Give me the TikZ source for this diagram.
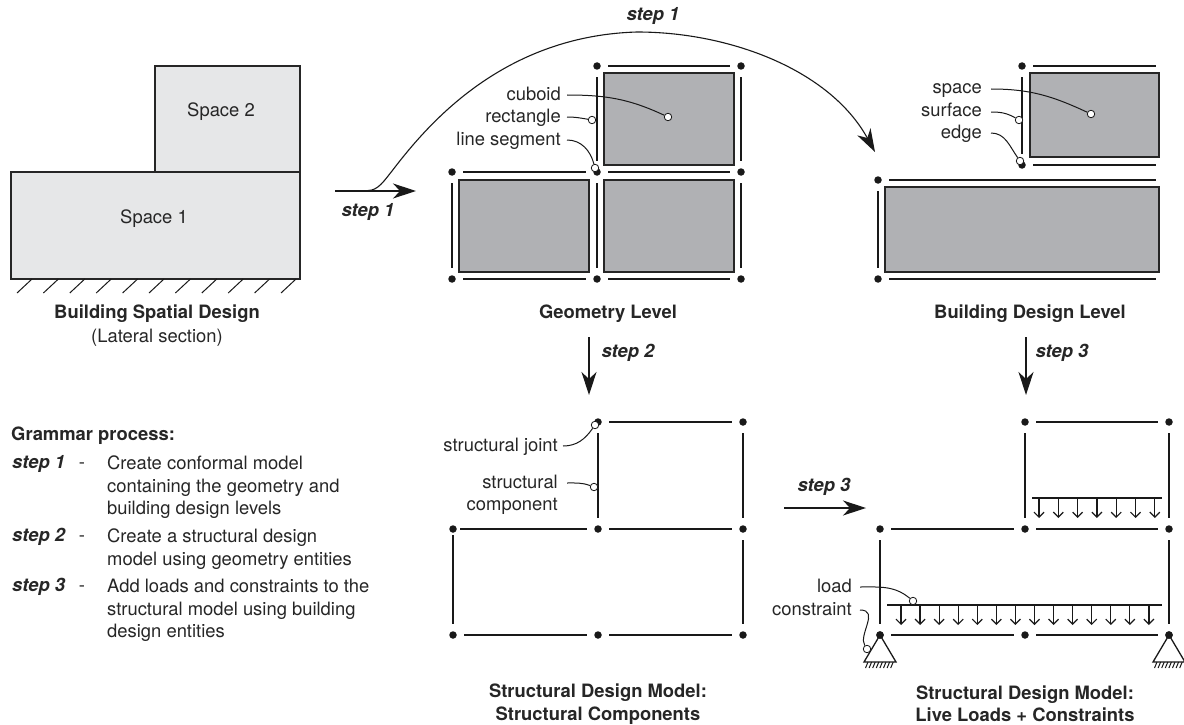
\documentclass[tikz,border=0pt]{standalone}
\usepackage{fontspec}
\setmainfont{TeX Gyre Heros}
\usetikzlibrary{arrows.meta,calc}

\tikzset{
	joint/.style={circle,fill=black!90,inner sep=0pt,minimum size=7.5pt},
	pin/.style={circle,draw=black!90,fill=white,line width=.8pt,inner sep=0pt,minimum size=7.5pt},
	member/.style={line width=1.4pt,draw=black!90,shorten <=7.5pt,shorten >=7.5pt},
	cuboid/.style={draw=black!85,fill=gray7,line width=1.3pt},
	space/.style={draw=black!85,fill=gray9,line width=1.3pt,inner sep=0pt},
	leader/.style={line width=1pt,draw=black!90},
	flow/.style={line width=1.1pt,draw=black!90,-{Stealth[length=23pt,width=15pt,inset=7pt]}},
	loadline/.style={line width=1.3pt,draw=black!90},
	loadarrow/.style={line width=1.2pt,draw=black!90,-{Straight Barb[length=5pt,width=10pt]}},
	txt/.style={font=\fontsize{18.4}{22.4}\selectfont,text=black!85,inner sep=0pt,align=center},
	oneline/.style={txt,text height=14pt,text depth=4pt},
	tag/.style={oneline,anchor=east,align=right,inner xsep=6pt},
	stepname/.style={oneline,font=\fontsize{18.4}{22.4}\selectfont\bfseries\itshape},
	title/.style={txt,font=\fontsize{18.4}{22.4}\selectfont\bfseries}
}
\definecolor{gray7}{HTML}{B0B1B4}
\definecolor{gray9}{HTML}{E6E7E8}

\begin{document}
\begin{tikzpicture}[x=1pt,y=-1pt]
	
	\useasboundingbox (0,0) rectangle (1184,725);
	
	\node[space,minimum width=145pt,minimum height=106pt] (sp2) at (227.5,119) {};
	\node[space,minimum width=289pt,minimum height=107pt] (sp1) at (155.5,225.5) {};
	\node[oneline] (sp2txt) at (221,111) {Space 2};
	\node[oneline] (sp1txt) at (154,218) {Space 1};
	\foreach \i in {0,...,10}
		\draw[line width=1pt,black!90] (17+26.4*\i,293) -- ++(15,-14);
	\node[title,oneline,font=\fontsize{18.4}{22.4}\selectfont\bfseries] (t1) at (157,313) {Building Spatial Design};
	\node[oneline] (t1b) at (157,337) {(Lateral section)};
	
	\draw[cuboid] (604,73) rectangle (734,165);
	\draw[cuboid] (459,180) rectangle (589,272);
	\draw[cuboid] (604,180) rectangle (734,272);
	\draw[cuboid] (1030,73) rectangle (1159,157);
	\draw[cuboid] (885,187) rectangle (1159,272);
	
	\foreach \n/\x/\y in {ga/597/66,gb/741/66,gc/452/172,gd/597/172,ge/741/172,gf/452/279,gg/597/279,gh/741/279,
		ba/1022/66,bb/1022/165,bc/878/180,bd/878/279,
		sa/598/422,sb/743/422,sc/453/529,sd/598/529,se/743/529,sf/453/635,sg/598/635,sh/743/635,
		ma/1025/422,mb/1169/422,mc/880/529,md/1025/529,me/1169/529,mf/880/635,mg/1025/635,mh/1169/635}
		\node[joint] (\n) at (\x,\y) {};
	\foreach \n/\y in {be/66,bf/165,bg/180,bh/279}
		\coordinate (\n) at (1163.5,\y);
	
	\foreach \a/\b in {ga/gb,ga/gd,gb/ge,gc/gd,gd/ge,gc/gf,gd/gg,ge/gh,gf/gg,gg/gh,
		ba/be,ba/bb,bb/bf,bc/bg,bc/bd,bd/bh,
		sa/sb,sa/sd,sb/se,sd/se,se/sh,sf/sg,sg/sh,
		ma/mb,ma/md,mb/me,mc/md,md/me,mc/mf,me/mh,mf/mg,mg/mh}
		\draw[member] (\a) -- (\b);
	\draw[member,shorten <=3.5pt] (sc) -- (sd);
	\draw[member,shorten <=2.5pt] (sc) -- (sf);
	
	\foreach \s in {mf,mh}{
		\draw[line width=1.3pt,black!90] (\s.center) -- ++(-16,27) -- ++(32,0) -- cycle;
		\foreach \k in {0,...,7}
			\draw[line width=1pt,black!90] ($(\s.center)+(-12+3.6*\k,27)$) -- ++(-2.5,6);
		\node[joint] (\s top) at (\s) {};
	}
	
	\coordinate (la) at (1032,498);
	\coordinate (lb) at (1162,498);
	\coordinate (lc) at (887,605);
	\coordinate (ld) at (1162,605);
	\draw[loadline] (la) -- (lb);
	\draw[loadline] (lc) -- (ld);
	\foreach \i in {0,...,6}
		\draw[loadarrow] (1039+19.3*\i,498) -- ++(0,20);
	\foreach \i in {0,...,13}
		\draw[loadarrow] (901+19.07*\i,605) -- ++(0,20);
	
	\coordinate (fa) at (335,191);
	\coordinate (fb) at (416,191);
	\coordinate (fc) at (368,190.5);
	\coordinate (fd) at (875,152);
	\coordinate (fe) at (589,337);
	\coordinate (ff) at (589,395);
	\coordinate (fg) at (1026,337);
	\coordinate (fh) at (1026,395);
	\coordinate (fi) at (784,508);
	\coordinate (fj) at (866,508);
	\draw[flow] (fa) -- (fb);
	\draw[flow] (fc) .. controls (378,190.5) and (384,181) .. (392,171) .. controls (425,128) and (500,36) .. (637,32) .. controls (730,32) and (830,70) .. (fd);
	\draw[flow] (fe) -- (ff);
	\draw[flow] (fg) -- (fh);
	\draw[flow] (fi) -- (fj);
	
	\node[stepname] (s1a) at (368,211) {step 1};
	\node[stepname] (s1b) at (653,16) {step 1};
	\node[stepname] (s2) at (628,352) {step 2};
	\node[stepname] (s3a) at (1062,352) {step 3};
	\node[stepname] (s3b) at (824,486) {step 3};
	
	\node[tag] (lcub) at (567,95) {cuboid};
	\node[tag] (lrec) at (567,117) {rectangle};
	\node[tag] (lseg) at (567,140) {line segment};
	\node[pin] (pcub) at (668,117) {};
	\node[pin] (prec) at (592,120) {};
	\node[pin] (pseg) at (595,168) {};
	\draw[leader] (lcub.east) to[out=0,in=155] (pcub);
	\draw[leader] (lrec.east) to[out=0,in=170] (prec);
	\draw[leader] (lseg.east) to[out=0,in=105] (pseg);
	
	\node[tag,inner xsep=9pt] (lspa) at (991,89) {space};
	\node[tag,inner xsep=9pt] (lsur) at (991,112) {surface};
	\node[tag,inner xsep=9pt] (ledg) at (991,133) {edge};
	\node[pin] (pspa) at (1091,114) {};
	\node[pin] (psur) at (1019,120) {};
	\node[pin] (pedg) at (1020,161) {};
	\draw[leader] (lspa.east) to[out=0,in=155] (pspa);
	\draw[leader] (lsur.east) to[out=0,in=150] (psur);
	\draw[leader] (ledg.east) to[out=0,in=125] (pedg);
	
	\node[tag,inner xsep=5pt] (ljoi) at (563,446) {structural joint};
	\node[tag,inner xsep=9pt] (lcom) at (567,483) {structural};
	\node[tag,inner xsep=9pt] (lcom2) at (567,505) {component};
	\node[pin] (pjoi) at (595,425) {};
	\node[pin] (pcom) at (594,487) {};
	\draw[leader] (ljoi.east) to[out=0,in=235] (pjoi);
	\draw[leader] (lcom.east) to[out=0,in=160] (pcom);
	
	\node[tag,inner xsep=8pt] (lloa) at (860,587) {load};
	\node[tag,inner xsep=8pt] (lcon) at (860,610) {constraint};
	\node[pin] (ploa) at (913,601) {};
	\node[pin] (pcon) at (867,649) {};
	\draw[leader] (lloa.east) to[out=0,in=140] (ploa);
	\draw[leader] (lcon.east) .. controls (880,610) and (858,635) .. (pcon);
	
	\node[oneline,font=\fontsize{18.4}{22.4}\selectfont\bfseries] (t2) at (608,313) {Geometry Level};
	\node[oneline,font=\fontsize{18.4}{22.4}\selectfont\bfseries] (t3) at (1030,313) {Building Design Level};
	\node[title] (t4) at (598,704) {Structural Design Model:\\Structural Components};
	\node[title] (t5) at (1025,704) {Structural Design Model:\\Live Loads + Constraints};
	
	\node[oneline,anchor=west,font=\fontsize{18.4}{22.4}\selectfont\bfseries] (g0) at (11,435) {Grammar process:};
	\node[stepname,anchor=west] (g1) at (12,463) {step 1};
	\node[stepname,anchor=west] (g2) at (12,536) {step 2};
	\node[stepname,anchor=west] (g3) at (12,586) {step 3};
	\node[oneline] (d1) at (82,463) {-};
	\node[oneline] (d2) at (82,536) {-};
	\node[oneline] (d3) at (82,586) {-};
	\node[txt,anchor=north west,align=left] (x1) at (107,456) {Create conformal model\\containing the geometry and\\building design levels};
	\node[txt,anchor=north west,align=left] (x2) at (107,529) {Create a structural design\\model using geometry entities};
	\node[txt,anchor=north west,align=left] (x3) at (107,579) {Add loads and constraints to the\\structural model using building\\design entities};
	
\end{tikzpicture}
\end{document}
